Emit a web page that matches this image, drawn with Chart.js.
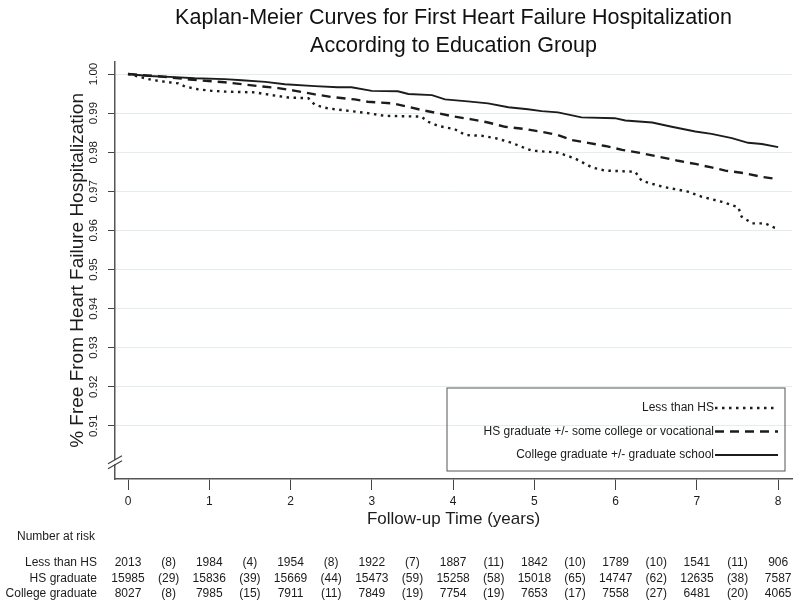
<!DOCTYPE html>
<html>
<head>
<meta charset="utf-8">
<title>Kaplan-Meier Curves - Education Group</title>
<script src="https://cdn.jsdelivr.net/npm/chart.js@4.4.1/dist/chart.umd.min.js"></script>
<style>
  html, body { margin: 0; padding: 0; background: #fff; }
  #km { display: block; }
</style>
</head>
<body>
<canvas id="km" width="800" height="607"></canvas>
<script>
// Kaplan-Meier curves, first HF hospitalization by education group
// values

const FONT = "'Liberation Sans', Arial, Helvetica, sans-serif";
const INK = '#1c1c1c';

// --- axes
const years = [0, 1, 2, 3, 4, 5, 6, 7, 8];
const yTicks = [0.91, 0.92, 0.93, 0.94, 0.95, 0.96, 0.97, 0.98, 0.99, 1.00];
const xMin = -0.16, xMax = 8.17;
const yMin = 0.8964, yMax = 1.0031;
const breakAt = 0.9007;

// --- curves (time in years, survival)
const lessHsTime = [0, 0.29, 0.46, 0.62, 0.70, 0.86, 1.03, 1.19, 1.56, 1.77, 1.97, 2.22, 2.30, 2.46, 2.95, 3.16, 3.61, 3.69, 3.82, 4.02, 4.15, 4.35, 4.52, 4.72, 4.89, 4.97, 5.29, 5.50, 5.71, 5.87, 6.24, 6.32, 6.57, 6.89, 7.06, 7.31, 7.51, 7.55, 7.68, 7.84, 7.94, 7.97];
const lessHsSurv = [1.0, 0.9985, 0.9980, 0.9976, 0.9968, 0.9961, 0.9957, 0.9955, 0.9953, 0.9946, 0.9940, 0.9938, 0.9921, 0.9912, 0.9900, 0.9893, 0.9891, 0.9878, 0.9867, 0.9859, 0.9844, 0.9842, 0.9836, 0.9824, 0.9810, 0.9804, 0.9799, 0.9784, 0.9761, 0.9753, 0.9750, 0.9727, 0.9712, 0.9699, 0.9686, 0.9673, 0.9659, 0.9635, 0.9618, 0.9618, 0.9608, 0.9606];

const hsTime = [0, 0.33, 0.49, 0.76, 0.99, 1.19, 1.40, 1.65, 1.85, 2.06, 2.30, 2.51, 2.79, 2.95, 3.25, 3.45, 3.61, 3.78, 4.02, 4.23, 4.43, 4.64, 4.89, 5.09, 5.29, 5.46, 5.66, 5.87, 6.08, 6.28, 6.52, 6.77, 6.98, 7.18, 7.35, 7.59, 7.80, 8.00];
const hsSurv = [1.0, 0.9995, 0.9992, 0.9986, 0.9982, 0.9979, 0.9974, 0.9968, 0.9964, 0.9957, 0.9948, 0.9941, 0.9935, 0.9929, 0.9925, 0.9916, 0.9908, 0.9901, 0.9891, 0.9884, 0.9876, 0.9865, 0.9859, 0.9852, 0.9844, 0.9831, 0.9824, 0.9816, 0.9806, 0.9799, 0.9789, 0.9778, 0.9770, 0.9761, 0.9753, 0.9746, 0.9737, 0.9731];

const collegeTime = [0, 0.25, 0.58, 0.82, 1.19, 1.40, 1.69, 1.93, 2.30, 2.58, 2.75, 3.00, 3.32, 3.45, 3.74, 3.90, 4.18, 4.43, 4.68, 4.92, 5.09, 5.29, 5.58, 5.99, 6.12, 6.45, 6.69, 6.98, 7.18, 7.43, 7.63, 7.80, 8.00];
const collegeSurv = [1.0, 0.9995, 0.9992, 0.9989, 0.9987, 0.9984, 0.9980, 0.9974, 0.9969, 0.9966, 0.9966, 0.9957, 0.9956, 0.9949, 0.9946, 0.9935, 0.9930, 0.9925, 0.9915, 0.9910, 0.9905, 0.9902, 0.9889, 0.9887, 0.9881, 0.9876, 0.9865, 0.9853, 0.9847, 0.9836, 0.9824, 0.9821, 0.9813];

// --- number at risk (at each year) and events between years
const lessHsAtRisk = [2013, 1984, 1954, 1922, 1887, 1842, 1789, 1541, 906];
const lessHsEvents = [8, 4, 8, 7, 11, 10, 10, 11];
const hsAtRisk = [15985, 15836, 15669, 15473, 15258, 15018, 14747, 12635, 7587];
const hsEvents = [29, 39, 44, 59, 58, 65, 62, 38];
const collegeAtRisk = [8027, 7985, 7911, 7849, 7754, 7653, 7558, 6481, 4065];
const collegeEvents = [8, 15, 11, 19, 19, 17, 27, 20];

const toPoints = (ts, ss) => ts.map((t, i) => ({x: t, y: ss[i]}));

const series = [
  {label: 'Less than HS', legend: 'Less than HS', data: toPoints(lessHsTime, lessHsSurv), dash: [2.5, 4.5], width: 2.4, atRisk: lessHsAtRisk, events: lessHsEvents},
  {label: 'HS graduate', legend: 'HS graduate +/- some college or vocational', data: toPoints(hsTime, hsSurv), dash: [9, 6], width: 2.4, atRisk: hsAtRisk, events: hsEvents},
  {label: 'College graduate', legend: 'College graduate +/- graduate school', data: toPoints(collegeTime, collegeSurv), dash: [], width: 1.9, atRisk: collegeAtRisk, events: collegeEvents}
];

// legend box, axis break and risk table drawn after the chart
const extrasPlugin = {
  id: 'kmExtras',
  afterDraw(chart){
    const {ctx, chartArea: ca, scales: {x, y}} = chart;
    ctx.save();

    // axis break marks on the y axis
    const by = y.getPixelForValue(breakAt);
    ctx.fillStyle = '#fff';
    ctx.fillRect(ca.left - 2, by - 2, 4, 4);
    ctx.strokeStyle = '#444';
    ctx.lineWidth = 1.2;
    [-2.5, 2.5].forEach(off => {
      ctx.beginPath();
      ctx.moveTo(ca.left - 7, by + off + 4);
      ctx.lineTo(ca.left + 7, by + off - 4);
      ctx.stroke();
    });

    // legend
    const lg = {left: ca.left + 332, right: ca.right - 7, top: ca.bottom - 91, bottom: ca.bottom - 8};
    ctx.strokeStyle = '#555';
    ctx.lineWidth = 1;
    ctx.strokeRect(lg.left, lg.top, lg.right - lg.left, lg.bottom - lg.top);
    ctx.font = '12px ' + FONT;
    ctx.textBaseline = 'middle';
    ctx.textAlign = 'right';
    series.forEach((s, i) => {
      const ry = lg.top + 20 + i * 23.5;
      ctx.fillStyle = INK;
      ctx.fillText(s.legend, lg.right - 71, ry);
      ctx.strokeStyle = INK;
      ctx.lineWidth = s.width;
      ctx.setLineDash(s.dash);
      ctx.beginPath();
      ctx.moveTo(lg.right - 70, ry);
      ctx.lineTo(lg.right - 7, ry);
      ctx.stroke();
      ctx.setLineDash([]);
    });

    // number at risk table
    ctx.fillStyle = INK;
    ctx.font = '12px ' + FONT;
    ctx.textAlign = 'left';
    ctx.fillText('Number at risk', 17, 537);
    series.forEach((s, i) => {
      const ry = 563 + i * 15.5;
      ctx.textAlign = 'right';
      ctx.fillText(s.label, ca.left - 18, ry);
      ctx.textAlign = 'center';
      s.atRisk.forEach((n, k) => ctx.fillText(String(n), x.getPixelForValue(years[k]), ry));
      s.events.forEach((n, k) => ctx.fillText('(' + n + ')', x.getPixelForValue(years[k] + 0.5), ry));
    });
    ctx.restore();
  }
};

const ctx = document.getElementById('km').getContext('2d');
new Chart(ctx, {
  type: 'line',
  data: {
    datasets: series.map(s => ({
      label: s.label,
      data: s.data,
      borderColor: INK,
      borderWidth: s.width,
      borderDash: s.dash,
      pointRadius: 0,
      fill: false,
      tension: 0
    }))
  },
  options: {
    responsive: false,
    animation: false,
    layout: {padding: {left: 0, right: 8, top: 0, bottom: 0}},
    plugins: {
      legend: {display: false},
      tooltip: {enabled: false},
      title: {
        display: true,
        fullSize: false,
        text: ['Kaplan-Meier Curves for First Heart Failure Hospitalization', 'According to Education Group'],
        color: '#111',
        font: {family: FONT, size: 21.5, weight: 'normal', lineHeight: 1.3},
        padding: {top: 4, bottom: 2}
      }
    },
    scales: {
      x: {
        type: 'linear',
        min: xMin,
        max: xMax,
        afterBuildTicks: s => { s.ticks = years.map(v => ({value: v})); },
        afterFit: s => { s.height = 128; },
        border: {color: '#555', width: 1.5},
        grid: {drawOnChartArea: false, tickColor: '#444', tickLength: 11},
        ticks: {padding: 4, minRotation: 0, maxRotation: 0, color: INK, font: {family: FONT, size: 12}},
        title: {display: true, text: 'Follow-up Time (years)', color: INK, font: {family: FONT, size: 17}, padding: {top: 0, bottom: 77}}
      },
      y: {
        type: 'linear',
        min: yMin,
        max: yMax,
        afterBuildTicks: s => { s.ticks = yTicks.map(v => ({value: v})); },
        afterFit: s => { s.width = 115; },
        border: {color: '#555', width: 1.5},
        grid: {color: '#e2ecf1', lineWidth: 1, tickColor: '#444', tickLength: 7},
        ticks: {minRotation: 90, maxRotation: 90, crossAlign: 'center', padding: 3, color: INK, font: {family: FONT, size: 11.5}, callback: v => v.toFixed(2)},
        title: {display: true, text: '% Free From Heart Failure Hospitalization', color: INK, font: {family: FONT, size: 19}, padding: {top: 66, bottom: 0}}
      }
    }
  },
  plugins: [extrasPlugin]
});
</script>
</body>
</html>
